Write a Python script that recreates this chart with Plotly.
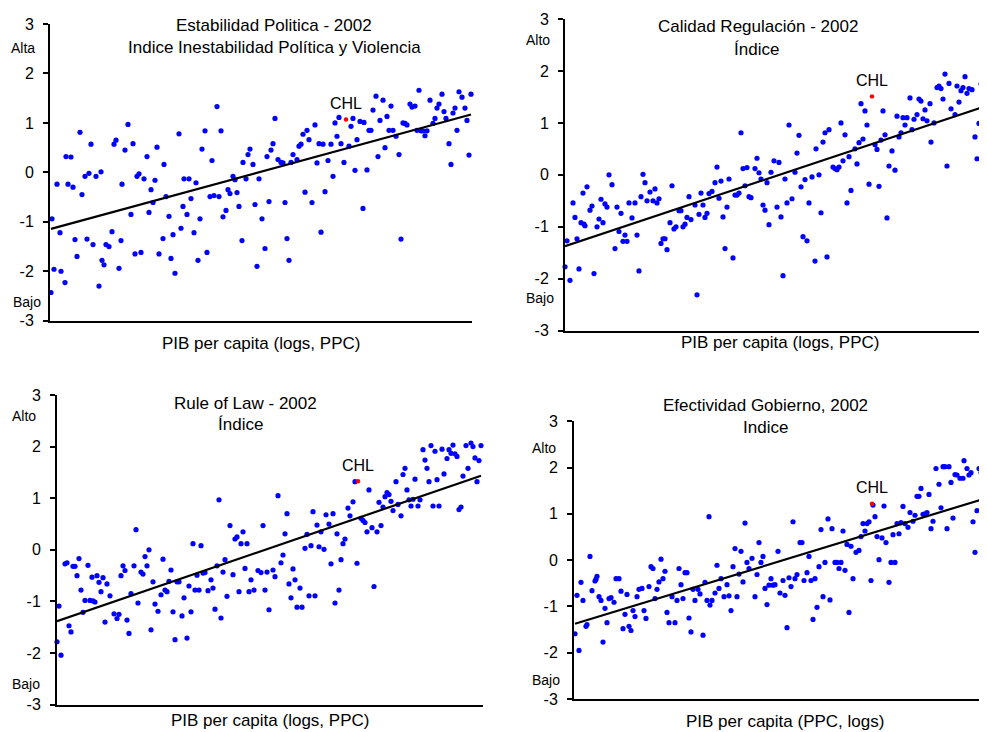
import numpy as np
import plotly.graph_objects as go

# ---------------- data ----------------
# Panel 1: Estabilidad Politica - 2002
pib_estab = [6.01, 6.02, 6.04, 6.07, 6.10, 6.11, 6.15, 6.16, 6.18, 6.21, 6.23, 6.25, 6.27, 6.30, 6.32, 6.35,
             6.37, 6.39, 6.41, 6.43, 6.46, 6.49, 6.51, 6.52, 6.54, 6.56, 6.59, 6.62, 6.64, 6.66, 6.69, 6.71,
             6.72, 6.75, 6.78, 6.81, 6.83, 6.85, 6.87, 6.89, 6.91, 6.94, 6.97, 6.99, 7.01, 7.03, 7.05, 7.07,
             7.09, 7.13, 7.14, 7.16, 7.19, 7.21, 7.23, 7.25, 7.29, 7.31, 7.33, 7.34, 7.37, 7.39, 7.41, 7.44,
             7.46, 7.48, 7.50, 7.52, 7.55, 7.57, 7.60, 7.62, 7.64, 7.67, 7.69, 7.71, 7.73, 7.76, 7.78, 7.80,
             7.83, 7.85, 7.87, 7.89, 7.92, 7.93, 7.96, 7.98, 8.00, 8.03, 8.05, 8.07, 8.09, 8.12, 8.15, 8.17,
             8.19, 8.21, 8.23, 8.25, 8.28, 8.31, 8.33, 8.35, 8.37, 8.39, 8.41, 8.43, 8.47, 8.49, 8.51, 8.53,
             8.55, 8.57, 8.59, 8.62, 8.65, 8.67, 8.69, 8.71, 8.73, 8.75, 8.78, 8.81, 8.83, 8.85, 8.87, 8.89,
             8.91, 8.94, 8.99, 9.01, 9.03, 9.05, 9.07, 9.10, 9.13, 9.14, 9.17, 9.19, 9.21, 9.23, 9.26, 9.28,
             9.30, 9.33, 9.35, 9.37, 9.39, 9.41, 9.43, 9.46, 9.49, 9.51, 9.53, 9.55, 9.57, 9.60, 9.62, 9.65,
             9.67, 9.69, 9.71, 9.73, 9.75, 9.77, 9.80, 9.83, 9.85, 9.87, 9.89, 9.92, 9.94, 9.96, 9.99, 10.01,
             10.03, 10.05, 10.07, 10.09, 10.12, 10.15, 10.17, 10.19, 10.21]
val_estab = [-2.43, -0.94, -1.96, -0.24, -1.22, -2.00, -2.23, 0.32, -0.24, 0.31, -0.30, -1.36, -1.70, 0.81, -0.45, -0.08,
             -1.35, -0.02, 0.57, -1.46, -0.08, -2.30, 0.01, -1.78, -1.87, -1.46, -1.50, -1.20, 0.57, 0.65, -1.94, -1.38,
             -0.24, 0.45, 0.97, -0.85, 0.58, -1.65, -0.08, -0.03, -1.62, -0.13, 0.32, -0.81, -0.35, -0.61, -0.16, 0.51,
             -1.65, -1.34, 0.16, -0.49, -0.89, -1.74, -1.26, -2.04, 0.78, -1.13, -0.69, -0.13, -0.85, -0.13, -0.53, -1.22,
             -0.21, -1.78, -0.94, 0.47, 0.84, -1.62, -0.49, 0.24, -0.47, 1.33, -0.49, 0.84, -0.90, -0.77, -0.35, -0.43,
             -0.08, -0.15, -0.41, -0.69, -1.38, 0.20, -0.13, 0.36, 0.47, 0.16, -0.65, -1.90, -0.13, -0.94, -1.54, 0.32,
             -0.59, 0.45, 0.58, 1.09, 0.26, 0.20, 0.19, -0.61, -1.34, -1.78, 0.20, 0.36, 0.26, 0.53, 0.57, 0.77,
             -0.40, 0.85, 0.66, -0.61, 0.96, 0.19, 0.58, -1.21, 0.57, -0.39, 0.24, 0.57, -0.08, 1.00, 0.73, 1.11,
             0.58, 0.20, 0.53, 0.93, 1.09, 0.04, 0.66, 1.03, -0.73, 1.01, 0.05, 0.85, 0.85, 1.26, 1.54, 0.32,
             1.05, 1.46, 0.50, 1.13, 0.85, 1.34, 0.85, 0.73, 0.36, -1.35, 1.00, 0.99, 0.96, 1.38, 1.32, 1.34,
             0.85, 1.66, 0.84, 0.84, 0.74, 0.84, 1.46, 0.99, 1.09, 1.30, 1.38, 1.58, 1.23, 1.09, 0.58, 0.16,
             1.20, 1.30, 0.85, 1.63, 1.52, 1.30, 1.05, 0.35, 1.58]

# Panel 2: Calidad Regulacion - 2002
pib_regul = [6.00, 6.02, 6.05, 6.08, 6.10, 6.12, 6.14, 6.16, 6.18, 6.19, 6.20, 6.22, 6.25, 6.27, 6.29, 6.32,
             6.34, 6.36, 6.38, 6.40, 6.42, 6.44, 6.47, 6.50, 6.52, 6.54, 6.56, 6.58, 6.60, 6.62, 6.64, 6.67,
             6.70, 6.72, 6.74, 6.76, 6.78, 6.80, 6.82, 6.85, 6.88, 6.90, 6.92, 6.94, 6.96, 6.98, 7.00, 7.02,
             7.05, 7.07, 7.09, 7.11, 7.14, 7.16, 7.18, 7.20, 7.22, 7.24, 7.26, 7.30, 7.32, 7.34, 7.36, 7.38,
             7.40, 7.42, 7.44, 7.47, 7.50, 7.52, 7.54, 7.56, 7.58, 7.60, 7.62, 7.64, 7.68, 7.70, 7.72, 7.74,
             7.76, 7.78, 7.80, 7.82, 7.84, 7.86, 7.90, 7.92, 7.94, 7.96, 7.98, 8.00, 8.02, 8.04, 8.06, 8.09,
             8.12, 8.14, 8.16, 8.18, 8.20, 8.22, 8.24, 8.27, 8.30, 8.32, 8.34, 8.36, 8.38, 8.40, 8.42, 8.44,
             8.47, 8.50, 8.51, 8.54, 8.56, 8.58, 8.60, 8.62, 8.64, 8.68, 8.70, 8.72, 8.74, 8.76, 8.78, 8.80,
             8.82, 8.84, 8.86, 8.90, 8.92, 8.94, 8.96, 8.98, 9.00, 9.02, 9.04, 9.10, 9.12, 9.14, 9.16, 9.18,
             9.20, 9.22, 9.24, 9.27, 9.30, 9.32, 9.34, 9.36, 9.38, 9.40, 9.42, 9.45, 9.47, 9.49, 9.52, 9.54,
             9.56, 9.58, 9.60, 9.62, 9.65, 9.66, 9.69, 9.72, 9.74, 9.76, 9.78, 9.80, 9.82, 9.84, 9.86, 9.90,
             9.92, 9.94, 9.96, 9.98, 10.00, 10.02, 10.04, 10.07, 10.10, 10.12, 10.14, 10.16, 10.18, 10.20, 10.22]
val_regul = [-1.77, -1.27, -2.03, -0.54, -0.82, -1.23, -1.81, -0.92, -0.35, -0.95, -0.98, -0.23, -0.68, -0.60, -1.90, -1.00,
             -0.85, -0.47, -0.92, -0.56, -0.62, 0.00, -0.19, -1.42, -0.62, -1.09, -0.74, -1.28, -1.16, -1.28, -0.54, -0.83,
             -0.54, -1.16, -1.85, -0.42, 0.01, -0.15, -0.50, -0.33, -0.50, -0.27, -0.54, -0.46, -1.32, -1.23, -1.23, -1.44,
             -0.92, -0.21, -1.04, -1.00, -0.69, -0.69, -1.00, -0.95, -0.82, -0.42, -0.86, -0.58, -2.31, -0.76, -0.35, -0.58,
             -0.82, -0.74, -0.36, -0.32, -0.15, 0.15, -0.45, -0.12, -0.81, -1.42, -0.62, -0.08, -1.60, -0.39, -0.39, -0.35,
             0.81, 0.12, -0.21, 0.14, -0.42, -0.44, 0.12, 0.32, 0.04, -0.08, -0.58, -0.68, -0.15, -0.96, 0.05, 0.27,
             -0.62, 0.24, -0.81, -1.94, -0.08, -0.54, 0.96, -0.46, 0.05, 0.42, 0.76, -0.23, -1.19, -0.09, -1.27, -0.54,
             -0.04, -1.66, 0.50, 0.00, -0.73, 0.63, 0.81, -1.58, 0.87, 0.15, 0.12, 0.10, 0.15, 1.00, 0.27, 0.77,
             -0.54, 0.35, -0.30, 0.50, 0.21, 0.62, 1.37, 0.69, 1.23, 0.96, -0.18, 0.58, 0.49, -0.22, 0.67, 1.23,
             0.77, -0.83, 0.17, 0.46, 0.09, 1.13, 0.73, 0.81, 1.10, 0.96, 1.10, 1.48, 0.87, 1.07, 1.16, 1.46,
             1.42, 1.08, 1.25, 1.04, 1.37, 0.63, 1.00, 1.68, 1.71, 1.66, 1.46, 1.94, 0.17, 1.76, 1.27, 1.16,
             1.71, 1.40, 1.62, 1.68, 1.89, 1.57, 1.66, 1.64, 0.73, 0.31, 0.99, 1.75, 1.46, 1.63, 1.87]

# Panel 3: Rule of Law - 2002
pib_rule = [6.00, 6.02, 6.04, 6.08, 6.10, 6.12, 6.14, 6.16, 6.18, 6.20, 6.22, 6.24, 6.26, 6.28, 6.31, 6.33,
            6.35, 6.36, 6.38, 6.40, 6.42, 6.44, 6.46, 6.48, 6.50, 6.53, 6.57, 6.60, 6.62, 6.64, 6.66, 6.68,
            6.70, 6.72, 6.74, 6.77, 6.79, 6.81, 6.84, 6.86, 6.88, 6.90, 6.92, 6.94, 6.96, 6.98, 7.01, 7.04,
            7.06, 7.08, 7.10, 7.12, 7.14, 7.16, 7.18, 7.20, 7.22, 7.25, 7.27, 7.30, 7.32, 7.34, 7.36, 7.38,
            7.40, 7.42, 7.44, 7.46, 7.48, 7.51, 7.54, 7.56, 7.58, 7.60, 7.62, 7.64, 7.66, 7.68, 7.70, 7.73,
            7.76, 7.78, 7.80, 7.82, 7.84, 7.86, 7.88, 7.90, 7.92, 7.94, 7.97, 8.01, 8.04, 8.06, 8.08, 8.10,
            8.12, 8.16, 8.18, 8.21, 8.24, 8.26, 8.28, 8.30, 8.32, 8.34, 8.36, 8.38, 8.40, 8.43, 8.45, 8.48,
            8.50, 8.52, 8.54, 8.56, 8.58, 8.60, 8.62, 8.64, 8.67, 8.69, 8.72, 8.74, 8.76, 8.78, 8.80, 8.82,
            8.84, 8.86, 8.88, 8.91, 8.93, 8.96, 8.98, 9.00, 9.04, 9.06, 9.08, 9.10, 9.12, 9.15, 9.17, 9.20,
            9.22, 9.24, 9.26, 9.28, 9.30, 9.32, 9.34, 9.36, 9.39, 9.41, 9.44, 9.46, 9.48, 9.50, 9.52, 9.54,
            9.56, 9.58, 9.61, 9.63, 9.66, 9.68, 9.70, 9.72, 9.74, 9.76, 9.78, 9.80, 9.82, 9.85, 9.87, 9.90,
            9.92, 9.94, 9.96, 9.98, 10.00, 10.02, 10.04, 10.06, 10.09, 10.11, 10.14, 10.16, 10.18, 10.20, 10.22, 10.24]
val_rule = [-1.78, -1.09, -2.04, -0.27, -0.25, -1.47, -1.59, -0.32, -0.32, -0.50, -0.17, -0.78, -1.21, -0.98, -0.30, -0.98,
            -0.53, -0.99, -1.01, -0.50, -0.63, -0.81, -0.54, -1.40, -0.66, -0.89, -1.24, -1.33, -1.25, -0.50, -0.31, -0.40,
            -1.36, -1.62, -0.85, -0.31, 0.39, -1.03, -0.43, -0.47, -0.13, -0.31, 0.00, -1.55, -0.62, -1.05, -1.19, -0.87,
            -0.18, -0.78, -0.81, -0.61, -0.39, -1.20, -1.74, -0.62, -0.62, -1.28, -0.93, -1.71, -0.70, -1.20, 0.12, -0.78,
            -0.49, -0.78, 0.08, -0.45, -0.44, -0.79, -0.58, -0.74, -1.15, -0.31, 0.97, -1.32, -0.43, -0.19, -0.90, 0.47,
            -0.48, 0.21, 0.25, -0.81, 0.12, 0.35, -0.36, 0.12, -0.81, -0.58, -0.78, -0.40, -0.44, 0.47, -0.78, -0.43,
            -1.16, -0.39, -0.52, 1.05, -0.25, -0.10, 0.31, 0.70, -0.66, -0.93, -0.37, -0.58, -1.11, -0.74, -1.11, 0.03,
            0.30, -0.89, 0.08, 0.74, -0.89, 0.48, 0.06, 0.35, 0.01, 0.68, 0.50, -0.27, 0.70, -1.03, 0.31, -0.78,
            -0.19, 0.12, 0.21, 0.81, 0.66, 0.93, 1.32, -0.26, 0.61, 0.57, 0.53, 0.35, 1.16, 0.43, -0.71, 0.35,
            0.92, 0.47, 0.83, 1.03, 1.11, 1.07, 0.94, 0.76, 1.32, 0.88, 0.66, 1.46, 1.58, 1.16, 0.97, 0.85,
            0.98, 1.37, 0.85, 0.97, 1.94, 1.74, 1.58, 1.32, 2.02, 0.85, 1.91, 1.36, 0.85, 1.95, 1.47, 1.77,
            1.94, 1.87, 2.03, 1.86, 1.81, 0.78, 0.83, 1.43, 2.02, 1.58, 2.07, 2.00, 1.78, 1.32, 1.73, 2.02]

# Panel 4: Efectividad Gobierno, 2002
pib_efect = [6.01, 6.03, 6.05, 6.07, 6.09, 6.12, 6.13, 6.16, 6.18, 6.21, 6.22, 6.23, 6.25, 6.27, 6.29, 6.31,
             6.33, 6.35, 6.37, 6.40, 6.42, 6.45, 6.47, 6.49, 6.51, 6.53, 6.55, 6.57, 6.59, 6.61, 6.63, 6.65,
             6.68, 6.70, 6.72, 6.75, 6.77, 6.79, 6.81, 6.83, 6.85, 6.87, 6.89, 6.91, 6.93, 6.95, 6.98, 7.01,
             7.03, 7.05, 7.07, 7.09, 7.11, 7.13, 7.15, 7.17, 7.19, 7.21, 7.24, 7.26, 7.29, 7.31, 7.33, 7.35,
             7.36, 7.38, 7.41, 7.43, 7.45, 7.47, 7.50, 7.53, 7.55, 7.57, 7.59, 7.61, 7.63, 7.65, 7.67, 7.69,
             7.71, 7.73, 7.75, 7.78, 7.81, 7.83, 7.85, 7.87, 7.89, 7.91, 7.93, 7.95, 7.97, 7.99, 8.01, 8.04,
             8.06, 8.09, 8.11, 8.13, 8.15, 8.17, 8.19, 8.21, 8.23, 8.26, 8.28, 8.30, 8.33, 8.35, 8.37, 8.39,
             8.41, 8.43, 8.45, 8.47, 8.49, 8.51, 8.54, 8.56, 8.58, 8.61, 8.63, 8.65, 8.67, 8.69, 8.71, 8.73,
             8.75, 8.77, 8.79, 8.82, 8.85, 8.87, 8.89, 8.91, 8.93, 8.95, 8.97, 8.99, 9.01, 9.03, 9.05, 9.08,
             9.10, 9.12, 9.15, 9.17, 9.19, 9.21, 9.23, 9.25, 9.27, 9.29, 9.31, 9.34, 9.36, 9.39, 9.41, 9.43,
             9.45, 9.47, 9.49, 9.51, 9.53, 9.55, 9.57, 9.59, 9.62, 9.65, 9.67, 9.69, 9.71, 9.73, 9.75, 9.77,
             9.79, 9.81, 9.83, 9.86, 9.89, 9.90, 9.93, 9.95, 9.97, 9.99, 10.01, 10.03, 10.05, 10.07, 10.09, 10.11]
val_efect = [-1.59, -0.76, -1.95, -0.48, -0.87, -1.43, -1.39, 0.08, -0.66, -0.45, -0.41, -0.35, -0.79, -0.87, -1.77, -1.04,
             -1.35, -0.83, -0.81, -0.91, -0.40, -0.40, -0.67, -1.48, -1.17, -0.74, -1.43, -1.52, -1.09, -1.22, -0.79, -0.63,
             -0.61, -1.09, -1.26, -0.57, -0.14, -0.18, -0.83, -0.63, -0.47, 0.02, -0.40, -0.24, -1.13, -1.35, -0.79, -1.35,
             -0.87, -0.18, -0.53, -0.83, -0.27, -0.27, -1.25, -1.55, -0.63, -0.87, -0.63, -0.73, -1.62, -0.48, -0.87, 0.94,
             -0.97, -0.87, -0.71, -0.11, -0.61, -0.40, -0.79, -0.53, -0.77, -1.09, -0.14, 0.25, -0.79, -0.30, 0.19, -0.47,
             0.80, -0.05, -0.18, 0.04, -0.79, -0.31, 0.38, -0.05, 0.08, -0.61, -0.96, -0.54, -0.40, -0.54, -0.53, 0.19,
             -0.71, -0.44, -0.76, -1.46, -0.38, -0.57, 0.83, -0.40, -0.31, 0.38, 0.38, -0.44, -0.27, 0.08, -0.44, -1.28,
             -0.40, -1.02, -0.14, 0.66, -0.79, -0.05, 0.89, -0.86, 0.68, -0.05, -0.05, -0.18, -0.05, 0.63, -0.22, 0.34,
             -1.13, 0.30, -0.40, 0.17, 0.21, 0.51, 0.79, 0.63, 0.79, 0.83, -0.44, 1.19, 0.94, 0.51, 0.01, 0.48,
             1.17, 0.38, -0.48, -0.05, 0.55, -0.05, 0.79, 0.57, 0.81, 1.16, 0.79, 0.71, 1.03, 0.84, 0.97, 1.38,
             1.38, 1.55, 0.99, 1.00, 1.03, 1.42, 0.68, 0.84, 1.98, 1.64, 1.13, 2.02, 2.02, 0.68, 2.02, 1.68,
             0.91, 1.85, 1.84, 1.77, 1.77, 2.15, 1.98, 1.84, 1.89, 0.83, 0.17, 1.07, 1.98, 1.89, 2.28, 1.85]

# Chile (highlighted in red), one value per panel
chl_pib = [8.96, 9.07, 9.01, 8.98]
chl_val = [1.07, 1.51, 1.33, 1.22]

titles_l1 = ["Estabilidad Politica - 2002", "Calidad Regulación - 2002", "Rule of Law - 2002", "Efectividad Gobierno, 2002"]
titles_l2 = ["Indice Inestabilidad Política y Violencia", "Índice", "Índice", "Indice"]
xlabels = ["PIB per capita (logs, PPC)", "PIB per capita (logs, PPC)", "PIB per capita (logs, PPC)", "PIB per capita (PPC, logs)"]
top_labels = ["Alta", "Alto", "Alto", "Alto"]
bottom_labels = ["Bajo", "Bajo", "Bajo", "Bajo"]
y_ticks = [-3, -2, -1, 0, 1, 2, 3]

# ---------------- layout geometry ----------------
# positions below are screen pixels of the 987 x 732 window; the page body adds an 8 px offset
OFF = 8
W, H = 987 - OFF, 732 - OFF
FONT = "Liberation Sans, Arial, sans-serif"
panels = [
    dict(x0=50, x1=472, yt=24, yb=320.7, xr=[6.0, 10.22],
         t1=(274, 25), t2=(274, 47), xl=(261, 344), top=(23, 48), bot=(27, 302)),
    dict(x0=565, x1=987, yt=19, yb=330.7, xr=[6.0, 10.22],
         t1=(758, 27), t2=(756, 49), xl=(780, 342), top=(538, 40), bot=(540, 298)),
    dict(x0=57, x1=483, yt=395, yb=704.7, xr=[6.0, 10.26],
         t1=(245, 403), t2=(240, 425), xl=(270, 720), top=(24, 416), bot=(26, 684)),
    dict(x0=574, x1=987, yt=421.3, yb=699, xr=[6.0, 10.13],
         t1=(765, 405), t2=(765, 427), xl=(785, 721), top=(544, 448), bot=(546, 680)),
]
series = [(pib_estab, val_estab), (pib_regul, val_regul), (pib_rule, val_rule), (pib_efect, val_efect)]


def px(x):
    return (x - OFF) / W


def py(y):
    return 1 - (y - OFF) / H


fig = go.Figure()
annotations = []
for i, (p, (xs, ys)) in enumerate(zip(panels, series)):
    n = "" if i == 0 else str(i + 1)
    xa, ya = "x" + n, "y" + n
    xs_a = np.array(xs)
    ys_a = np.array(ys)
    fig.add_trace(go.Scatter(x=xs_a, y=ys_a, mode="markers", xaxis=xa, yaxis=ya,
                             marker=dict(color="#0000FF", size=5.2, line=dict(width=0)),
                             cliponaxis=False, hoverinfo="x+y"))
    # least squares fit line
    allx = np.append(xs_a, chl_pib[i])
    ally = np.append(ys_a, chl_val[i])
    b, a = np.polyfit(allx, ally, 1)
    lx = np.array([allx.min(), allx.max()])
    fig.add_trace(go.Scatter(x=lx, y=a + b * lx, mode="lines", xaxis=xa, yaxis=ya,
                             line=dict(color="black", width=2.2), hoverinfo="skip"))
    fig.add_trace(go.Scatter(x=[chl_pib[i]], y=[chl_val[i]], mode="markers", xaxis=xa, yaxis=ya,
                             marker=dict(color="#FF0000", size=4.4), cliponaxis=False))
    annotations.append(dict(x=chl_pib[i], y=chl_val[i], xref=xa, yref=ya, text="CHL",
                            showarrow=False, yshift=16, font=dict(family=FONT, size=16, color="black")))
    fig.layout["xaxis" + n] = dict(domain=[px(p["x0"]), min(1.0, px(p["x1"]))], range=p["xr"], anchor=ya,
                                   showline=True, linecolor="black", linewidth=2, showgrid=False,
                                   zeroline=False, showticklabels=False, ticks="", fixedrange=True,
                                   automargin=False)
    fig.layout["yaxis" + n] = dict(domain=[py(p["yb"]), py(p["yt"])], range=[-3, 3], anchor=xa,
                                   showline=True, linecolor="black", linewidth=2, showgrid=False,
                                   zeroline=False, tickvals=y_ticks, ticktext=[str(v) for v in y_ticks],
                                   ticks="outside", ticklen=5, tickwidth=1.5, tickcolor="black",
                                   ticklabelstandoff=6,
                                   tickfont=dict(family=FONT, size=16, color="black"), fixedrange=True,
                                   automargin=False)
    for key, txt, size in (("t1", titles_l1[i], 17), ("t2", titles_l2[i], 17), ("xl", xlabels[i], 17),
                           ("top", top_labels[i], 14), ("bot", bottom_labels[i], 14)):
        cx, cy = p[key]
        annotations.append(dict(x=px(cx), y=py(cy), xref="paper", yref="paper", text=txt,
                                showarrow=False, xanchor="center", yanchor="middle",
                                font=dict(family=FONT, size=size, color="black")))

fig.update_layout(width=W, height=H, margin=dict(l=0, r=0, t=0, b=0, pad=0, autoexpand=False),
                  paper_bgcolor="white", plot_bgcolor="white", showlegend=False,
                  annotations=annotations, font=dict(family=FONT, color="black"))
fig.write_html("out.html")
